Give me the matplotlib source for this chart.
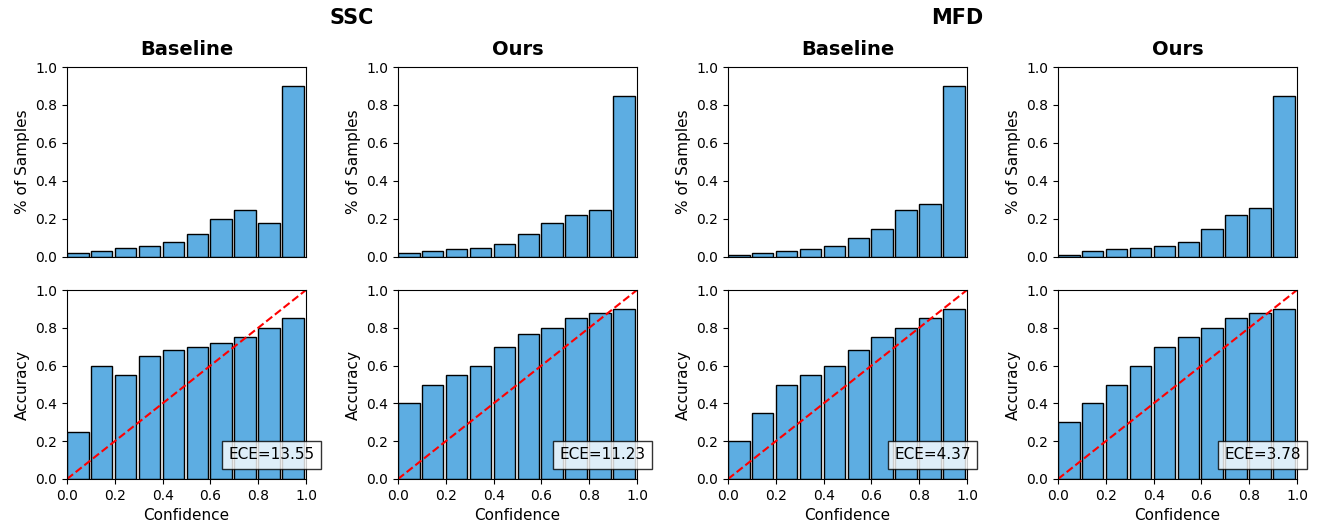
import numpy as np
import matplotlib
matplotlib.use("Agg")
import matplotlib.pyplot as plt

# --- data ---
bin_edges = np.arange(0.0, 1.0, 0.1)

ssc_base_frac = [0.02, 0.03, 0.05, 0.06, 0.08, 0.12, 0.20, 0.25, 0.18, 0.90]
ssc_ours_frac = [0.02, 0.03, 0.04, 0.05, 0.07, 0.12, 0.18, 0.22, 0.25, 0.85]
mfd_base_frac = [0.01, 0.02, 0.03, 0.04, 0.06, 0.10, 0.15, 0.25, 0.28, 0.90]
mfd_ours_frac = [0.01, 0.03, 0.04, 0.05, 0.06, 0.08, 0.15, 0.22, 0.26, 0.85]

ssc_base_acc = [0.25, 0.60, 0.55, 0.65, 0.68, 0.70, 0.72, 0.75, 0.80, 0.85]
ssc_ours_acc = [0.40, 0.50, 0.55, 0.60, 0.70, 0.765, 0.80, 0.85, 0.88, 0.90]
mfd_base_acc = [0.20, 0.35, 0.50, 0.55, 0.60, 0.68, 0.75, 0.80, 0.85, 0.90]
mfd_ours_acc = [0.30, 0.40, 0.50, 0.60, 0.70, 0.75, 0.80, 0.85, 0.88, 0.90]

ece_values = [13.55, 11.23, 4.37, 3.78]
panel_titles = ["Baseline", "Ours", "Baseline", "Ours"]
group_titles = ["SSC", "MFD"]

frac_list = [ssc_base_frac, ssc_ours_frac, mfd_base_frac, mfd_ours_frac]
acc_list = [ssc_base_acc, ssc_ours_acc, mfd_base_acc, mfd_ours_acc]

BAR_COLOR = "#5DADE2"

fig = plt.figure(figsize=(13.17, 5.27), dpi=100)

lefts = [67, 398, 728, 1058]
W, H = 1317, 527
ax_w = 239 / W

for i in range(4):
    x0 = lefts[i] / W
    # oben: Verteilung der Samples
    ax_top = fig.add_axes([x0, 1 - 257 / H, ax_w, 190 / H])
    ax_top.bar(bin_edges, frac_list[i], width=0.09, align="edge",
               color=BAR_COLOR, edgecolor="black", linewidth=1)
    ax_top.set_xlim(0, 1)
    ax_top.set_ylim(0, 1)
    ax_top.set_xticks([])
    ax_top.set_ylabel("% of Samples", fontsize=11)
    ax_top.set_title(panel_titles[i], fontsize=14, fontweight="bold", pad=8.5)

    # unten: Reliability-Diagramm
    ax_bot = fig.add_axes([x0, 1 - 479 / H, ax_w, 189 / H])
    ax_bot.bar(bin_edges, acc_list[i], width=0.09, align="edge",
               color=BAR_COLOR, edgecolor="black", linewidth=1)
    ax_bot.plot([0, 1], [0, 1], "r--", linewidth=1.5)
    ax_bot.set_xlim(0, 1)
    ax_bot.set_ylim(0, 1)
    ax_bot.set_xlabel("Confidence", fontsize=11)
    ax_bot.set_ylabel("Accuracy", fontsize=11)
    ax_bot.text(0.856, 0.127, f"ECE={ece_values[i]:.2f}", transform=ax_bot.transAxes,
                ha="center", va="center", fontsize=11, clip_on=False,
                bbox=dict(boxstyle="square,pad=0.4", facecolor="white",
                          edgecolor="black", alpha=0.8))

# Gruppentitel
fig.text(352 / W, 1 - 18 / H, group_titles[0], ha="center", va="center",
         fontsize=15, fontweight="bold")
fig.text(957 / W, 1 - 18 / H, group_titles[1], ha="center", va="center",
         fontsize=15, fontweight="bold")

plt.savefig("out.png", dpi=100)
